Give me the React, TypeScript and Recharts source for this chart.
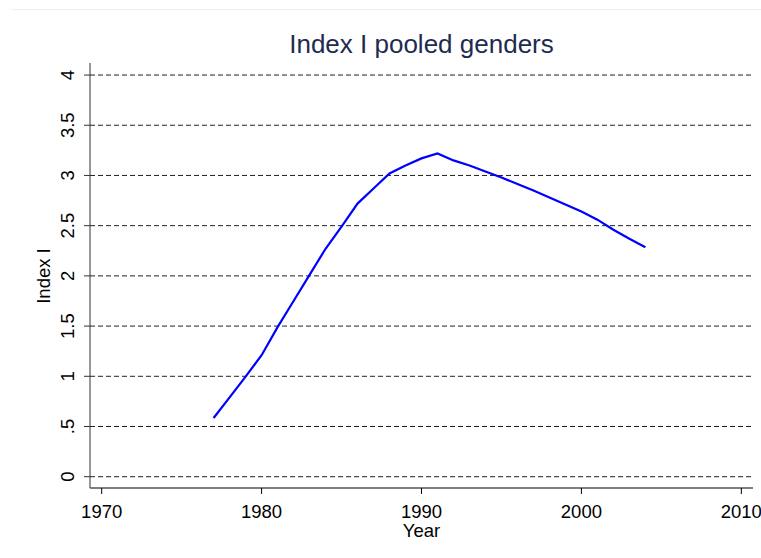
import React from 'react';
import { LineChart, Line, XAxis, YAxis, CartesianGrid } from 'recharts';

const years = [1977, 1978, 1979, 1980, 1981, 1982, 1983, 1984, 1985, 1986, 1987, 1988, 1989, 1990, 1991, 1992, 1993, 1994, 1995, 1996, 1997, 1998, 1999, 2000, 2001, 2002, 2003, 2004];
const indexI = [0.585, 0.79, 0.996, 1.21, 1.49, 1.75, 2.01, 2.27, 2.49, 2.72, 2.87, 3.02, 3.1, 3.17, 3.22, 3.15, 3.1, 3.04, 2.98, 2.915, 2.85, 2.78, 2.71, 2.64, 2.56, 2.46, 2.37, 2.285];
const xTicks = [1970, 1980, 1990, 2000, 2010];
const yTicks = [0, 0.5, 1, 1.5, 2, 2.5, 3, 3.5, 4];

const data = years.map((y, i) => ({ year: y, value: indexI[i] }));

const FONT = '"Liberation Sans", Arial, Helvetica, sans-serif';

function fmtY(v: number) {
  if (v === 0) return '0';
  const s = String(v);
  return s.startsWith('0.') ? s.slice(1) : s;
}

function XTick(props: any) {
  const { x, y, payload } = props;
  return (
    <text x={x} y={y + 24} textAnchor="middle" fontSize={18.5} fontFamily={FONT} fill="#000">
      {payload.value}
    </text>
  );
}

function YTick(props: any) {
  const { x, y, payload } = props;
  const bx = x - 9.5;
  return (
    <text x={bx} y={y} transform={`rotate(-90, ${bx}, ${y})`} textAnchor="middle" fontSize={18.5} fontFamily={FONT} fill="#000">
      {fmtY(payload.value)}
    </text>
  );
}

export default function App() {
  return (
    <div style={{ position: 'absolute', left: 0, top: 0, width: 761, height: 558, background: '#fff' }}>
      <div style={{ position: 'absolute', left: 11, top: 9, width: 750, height: 1, background: '#f0f0f0' }} />
      <LineChart width={761} height={558} data={data} margin={{ top: 63, right: 8, bottom: 40, left: 40 }}>
        <CartesianGrid vertical={false} horizontalValues={yTicks} stroke="#222" strokeDasharray="5 3" />
        <XAxis
          dataKey="year"
          type="number"
          domain={[1969.27, 2010.73]}
          ticks={xTicks}
          allowDataOverflow
          height={30}
          tickSize={6}
          tickMargin={0}
          tick={<XTick />}
          stroke="#000"
          label={{
            content: () => (
              <text x={421.5} y={537} textAnchor="middle" fontSize={18.5} fontFamily={FONT} fill="#000">Year</text>
            ),
          }}
        />
        <YAxis
          type="number"
          domain={[-0.1125, 4.12]}
          ticks={yTicks}
          allowDataOverflow
          width={50}
          tickSize={6}
          tickMargin={0}
          tick={<YTick />}
          stroke="#333"
          label={{
            content: () => (
              <text x={50} y={276} transform="rotate(-90, 50, 276)" textAnchor="middle" fontSize={18.5} fontFamily={FONT} fill="#000">Index I</text>
            ),
          }}
        />
        <Line type="linear" dataKey="value" stroke="#0000ff" strokeWidth={2.2} dot={false} isAnimationActive={false} />
      </LineChart>
      <svg width={761} height={70} style={{ position: 'absolute', left: 0, top: 0, pointerEvents: 'none' }}>
        <text x={421.5} y={53} textAnchor="middle" fontSize={26} fontFamily={FONT} fill="#1e2b50">Index I pooled genders</text>
      </svg>
    </div>
  );
}
